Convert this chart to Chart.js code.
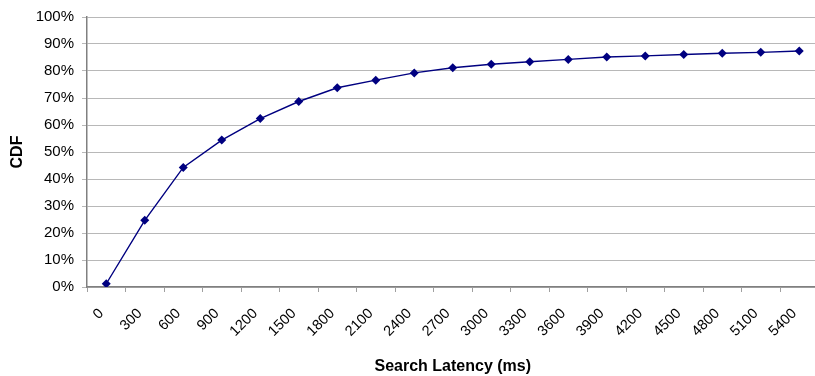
<!DOCTYPE html>
<html>
<head>
<meta charset="utf-8">
<script src="https://cdn.jsdelivr.net/npm/chart.js@4/dist/chart.umd.min.js"></script>
<style>
  html, body { margin: 0; padding: 0; background: #fff; overflow: hidden; }
  #wrap { width: 815px; height: 376px; overflow: hidden; position: relative; }
  #box { width: 823px; height: 376px; position: absolute; left: 0; top: 0; }
</style>
</head>
<body>
<div id="wrap"><div id="box"><canvas id="c"></canvas></div></div>
<script>
// Latency buckets (ms) and cumulative share of searches (%)
const latencyLabels = ['0','300','600','900','1200','1500','1800','2100','2400','2700',
                       '3000','3300','3600','3900','4200','4500','4800','5100','5400'];
const cdfValues = [1.2, 24.7, 44.3, 54.4, 62.4, 68.7, 73.8, 76.6, 79.3, 81.2,
                   82.5, 83.4, 84.3, 85.2, 85.6, 86.1, 86.6, 86.9, 87.4];
const yTicks = [0, 10, 20, 30, 40, 50, 60, 70, 80, 90, 100];

const font = 'Liberation Sans, Arial, sans-serif';

new Chart(document.getElementById('c'), {
  type: 'line',
  data: {
    labels: latencyLabels,
    datasets: [{
      data: cdfValues,
      borderColor: '#000080',
      backgroundColor: '#000080',
      borderWidth: 1.4,
      pointStyle: 'rectRot',
      pointRadius: 4.5,
      pointBorderWidth: 0,
      tension: 0,
      fill: false
    }]
  },
  options: {
    responsive: true,
    maintainAspectRatio: false,
    animation: false,
    devicePixelRatio: 1,
    layout: { padding: { top: 14, left: 0, right: 0, bottom: 0 } },
    plugins: { legend: { display: false }, tooltip: { enabled: false } },
    scales: {
      x: {
        type: 'category',
        offset: true,
        afterFit: s => { s.height = 89; s.paddingLeft = 0; s.paddingRight = 0; },
        border: { color: '#808080', width: 1.5 },
        grid: { offset: true, drawOnChartArea: false, drawTicks: true, tickLength: 5, color: '#a0a0a0' },
        ticks: {
          color: '#000', autoSkip: false, minRotation: 45, maxRotation: 45,
          padding: 13, labelOffset: -5,
          font: { family: font, size: 14.5 }
        },
        title: {
          display: true, text: 'Search Latency (ms)', color: '#000',
          font: { family: font, size: 16, weight: 'bold' }, padding: { top: 0, bottom: 0 }
        }
      },
      y: {
        min: 0, max: 100,
        afterFit: s => { s.width = 87; },
        afterBuildTicks: s => { s.ticks = yTicks.map(v => ({ value: v })); },
        border: { color: '#808080', width: 1.5 },
        grid: { color: '#b8b8b8', lineWidth: 1, tickLength: 5, drawTicks: true },
        ticks: {
          color: '#000', padding: 8,
          font: { family: font, size: 15 },
          callback: v => v + '%'
        },
        title: {
          display: true, text: 'CDF', color: '#000',
          font: { family: font, size: 16, weight: 'bold' }, padding: { top: 8, bottom: 0 }
        }
      }
    }
  }
});
</script>
</body>
</html>
